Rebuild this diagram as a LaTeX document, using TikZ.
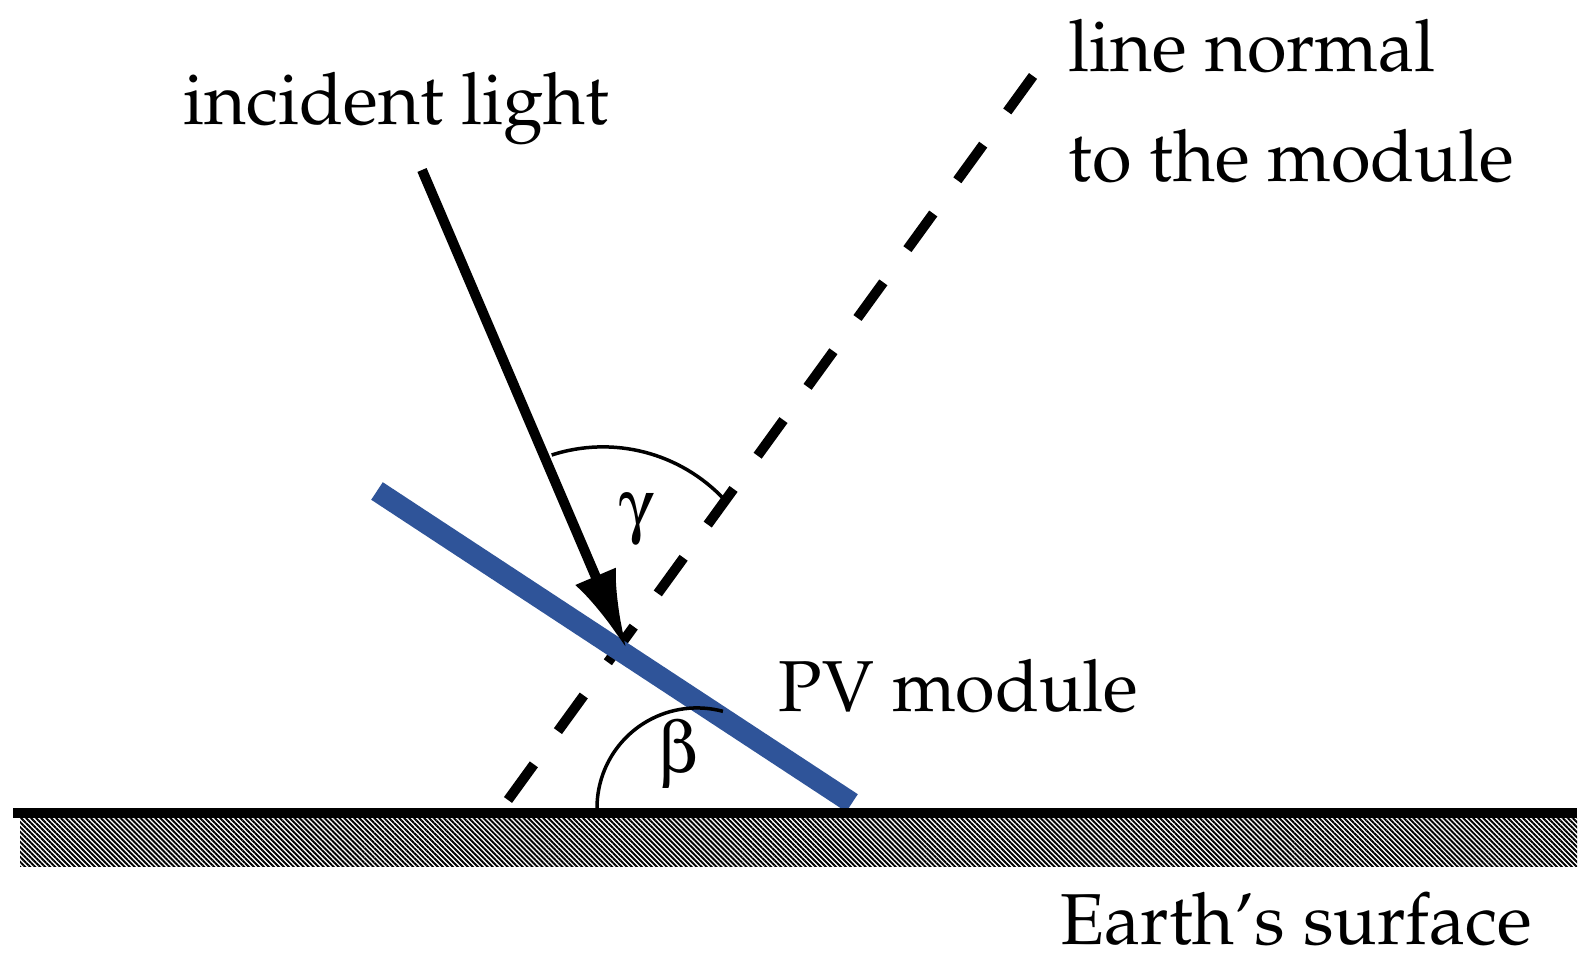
\documentclass[tikz,border=0pt]{standalone}
\usepackage[T1]{fontenc}
\usepackage{mathpazo}
\usepackage[Symbol]{upgreek}
\usetikzlibrary{arrows.meta,patterns.meta}
\definecolor{pvblue}{RGB}{47,84,153}
\begin{document}
\begin{tikzpicture}[x=0.01cm,y=0.01cm,
  lbl/.style={anchor=base west,inner sep=0pt,font=\fontsize{20.5}{24}\selectfont},
  greek/.style={anchor=center,inner sep=0pt,font=\fontsize{20.5}{24}\selectfont},
  dashline/.style={line width=0.1cm,dash pattern=on 0.44cm off 0.41cm},
  module/.style={line width=0.21cm,pvblue},
  ground/.style={line width=0.1cm},
  ray/.style={line width=0.1cm,-{Latex[length=0.8cm,width=0.44cm]}},
  anglearc/.style={line width=0.035cm}]
\useasboundingbox (0,0) rectangle (1595,971);
\fill[white] (0,0) rectangle (1595,971);
% ground hatch
\path[pattern={Lines[angle=-45,distance=1pt,line width=0.55pt]}] (20,104) rectangle (1577,152);
% key points
\coordinate (gL) at (13,158);
\coordinate (gR) at (1577,158);
\coordinate (nB) at (508,171);
\coordinate (nT) at (1033,895);
\coordinate (mA) at (377,480);
\coordinate (mB) at (852,168);
\coordinate (lS) at (422,801);
\coordinate (lT) at (627,321);
\coordinate (gc) at (603,358);
\coordinate (bs) at (597,163);
% lines
\draw[dashline] (nB) -- (nT);
\draw[module] (mA) -- (mB);
\draw[ground] (gL) -- (gR);
\draw[ray] (lS) -- (lT);
% angle arcs
\draw[anglearc] (gc) ++(108:1.66cm) arc[start angle=108,end angle=43,radius=1.66cm];
\draw[anglearc] (bs) arc[start angle=180,end angle=75,radius=1cm];
% labels
\node[lbl] (inc) at (183,846) {incident light};
\node[lbl] (ln1) at (1068,899) {line normal};
\node[lbl] (ln2) at (1068,789) {to the module};
\node[lbl] (pv) at (778,259) {PV module};
\node[lbl] (es) at (1060,26) {Earth's surface};
\node[greek] (g) at (637,451) {$\upgamma$};
\node[greek] (b) at (678,216) {$\upbeta$};
\end{tikzpicture}
\end{document}
